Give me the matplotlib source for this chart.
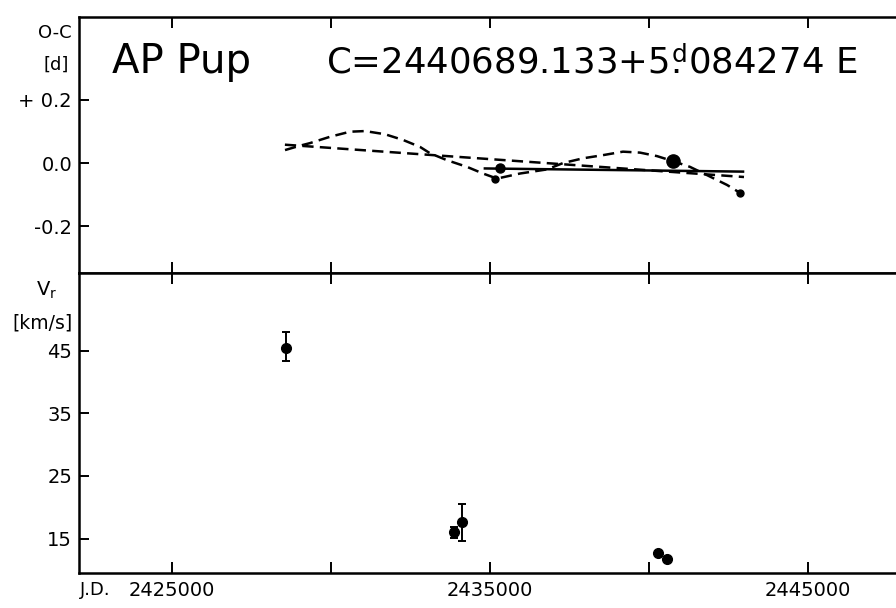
import matplotlib
matplotlib.use("Agg")
import matplotlib.pyplot as plt
from matplotlib.ticker import FixedLocator

plt.rcParams["font.family"] = "DejaVu Sans"
plt.rcParams["mathtext.fontset"] = "dejavusans"

# O-C panel (days)
oc_jd = [2435160, 2435320, 2440760, 2442860]
oc_val = [-0.051, -0.016, 0.007, -0.095]

lin_jd = [2428550, 2442990]
lin_oc = [0.058, -0.044]

fit_jd = [2434840, 2442960]
fit_oc = [-0.017, -0.027]

wave_jd = [2428554, 2428994, 2429340, 2429969, 2430598, 2431070, 2431699,
           2432265, 2432800, 2433114, 2433649, 2434278, 2434781, 2435221,
           2435945, 2436794, 2437297, 2437926, 2438555, 2439184, 2439719,
           2440253, 2440757, 2441291, 2441826, 2442455, 2442864]
wave_oc = [0.041, 0.054, 0.063, 0.083, 0.099, 0.101, 0.091,
           0.073, 0.051, 0.031, 0.009, -0.012, -0.033, -0.049,
           -0.033, -0.020, 0.000, 0.015, 0.025, 0.036, 0.033,
           0.022, 0.006, -0.012, -0.038, -0.069, -0.094]

# radial velocity panel (km/s)
vr_jd = [2428600, 2433880, 2434110, 2440290, 2440560]
vr_val = [45.5, 16.0, 17.7, 12.7, 11.7]
vr_err_lo = [2.1, 0.9, 3.1]
vr_err_hi = [2.5, 0.9, 2.8]

oc_ticks = [0.2, 0.0, -0.2]
oc_labels = ["+ 0.2", "0.0", "-0.2"]
vr_ticks = [45, 35, 25, 15]
jd_ticks = [2425000, 2430000, 2435000, 2440000, 2445000]
jd_labels = ["2425000", "", "2435000", "", "2445000"]

fig = plt.figure(figsize=(8.96, 6.08), dpi=100)
ax1 = fig.add_axes([0.0882, 0.551, 0.914, 0.421])
ax2 = fig.add_axes([0.0882, 0.0576, 0.914, 0.4934])

xlim = (2422075, 2447833)
lw_spine = 1.8

for ax in (ax1, ax2):
    ax.set_xlim(*xlim)
    for side in ["left", "top", "bottom"]:
        ax.spines[side].set_linewidth(lw_spine)
    ax.spines["right"].set_visible(False)
    ax.xaxis.set_major_locator(FixedLocator(jd_ticks))
    ax.tick_params(axis="both", width=1.4, labelsize=14, colors="black")
    ax.tick_params(axis="y", direction="in", length=7, pad=5, right=False)

# top panel
ax1.set_ylim(-0.347, 0.461)
ax1.set_yticks(oc_ticks)
ax1.set_yticklabels(oc_labels)
ax1.tick_params(axis="x", top=True, bottom=True, direction="in", length=8,
                labeltop=False, labelbottom=False)

ax1.plot(lin_jd, lin_oc, color="black", lw=1.8, ls=(0, (4.5, 2.5)))
ax1.plot(wave_jd, wave_oc, color="black", lw=1.8, ls=(0, (4.5, 2.5)))
ax1.plot(fit_jd, fit_oc, color="black", lw=1.8, ls="-")
oc_sizes = [5, 6.5, 9.5, 5]
for x, y, s in zip(oc_jd, oc_val, oc_sizes):
    ax1.plot(x, y, "o", color="black", ms=s)

ax1.text(0.04, 0.78, "AP Pup", transform=ax1.transAxes, fontsize=29,
         ha="left", va="baseline")
ax1.text(0.302, 0.78, r"C=2440689.133+5$\overset{\mathrm{d}}{.}$084274 E",
         transform=ax1.transAxes, fontsize=25.6, ha="left", va="baseline")
fig.text(0.080, 0.946, "O-C", fontsize=13, ha="right", va="center")
fig.text(0.077, 0.893, "[d]", fontsize=13, ha="right", va="center")

# bottom panel
ax2.set_ylim(9.5, 57.4)
ax2.set_yticks(vr_ticks)
ax2.tick_params(axis="x", top=True, bottom=True, direction="in",
                length=8, pad=6)
ax2.set_xticklabels(jd_labels)

ax2.errorbar(vr_jd[:3], vr_val[:3], yerr=[vr_err_lo, vr_err_hi], fmt="o",
             color="black", ms=7, elinewidth=1.4, capsize=2.6, capthick=1.4)
ax2.plot(vr_jd[3:], vr_val[3:], "o", color="black", ms=7)

fig.text(0.052, 0.522, r"V$_{\mathrm{r}}$", fontsize=14, ha="center", va="center")
fig.text(0.081, 0.468, "[km/s]", fontsize=13.5, ha="right", va="center")
fig.text(0.089, 0.030, "J.D.", fontsize=13, ha="left", va="center")

fig.savefig("out.png", dpi=100)
